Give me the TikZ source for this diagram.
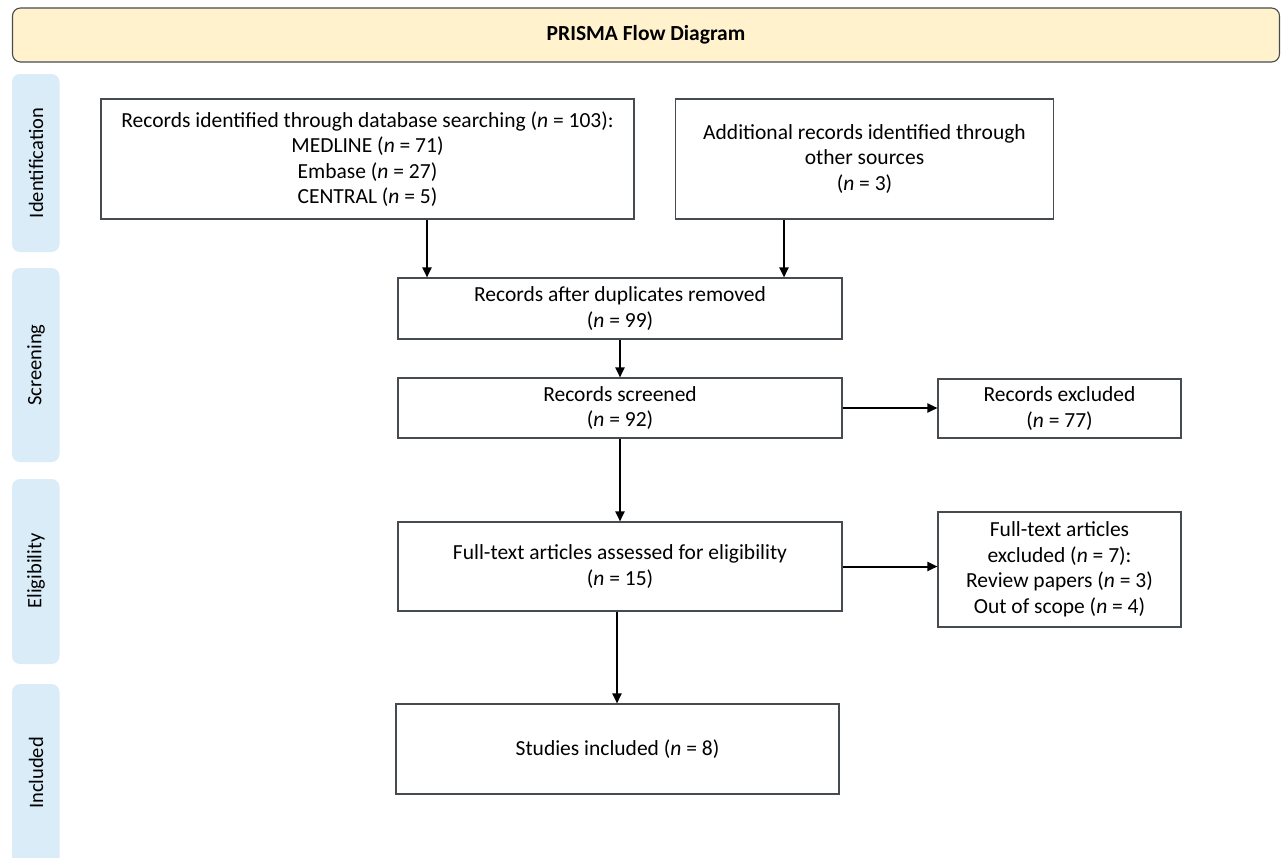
\documentclass[tikz,border=0pt]{standalone}
\usepackage{fontspec}
\setmainfont{Carlito}
\usetikzlibrary{arrows.meta,calc}
\definecolor{hdrfill}{RGB}{255,242,204}
\definecolor{tabfill}{RGB}{217,236,248}
\definecolor{boxline}{RGB}{70,75,80}
\tikzset{
  flowbox/.style={draw=boxline, line width=1.1pt, fill=white, align=center, inner sep=2pt,
    font=\fontsize{21.5}{25.5}\selectfont},
  tabbox/.style={fill=tabfill, rounded corners=8pt},
  tablabel/.style={rotate=90, font=\fontsize{20.5}{24}\selectfont},
  arr/.style={line width=2pt, -{Triangle[length=10pt,width=9pt]}}
}
\newcommand{\nn}{\textit{n}}
\begin{document}
\begin{tikzpicture}[x=1pt,y=-1pt]
\useasboundingbox (0,0) rectangle (1281,857);
% header
\node[draw=boxline, line width=1.1pt, fill=hdrfill, rounded corners=8pt,
  minimum width=1267pt, minimum height=54pt, font=\bfseries\fontsize{21.5}{24}\selectfont]
  (hdr) at (646,35) {PRISMA Flow Diagram};
% side tabs
\begin{scope}
\clip (0,0) rectangle (1281,857);
\fill[tabbox] (12,74) rectangle (59.5,252);
\fill[tabbox] (12,268) rectangle (59.5,462);
\fill[tabbox] (12,479) rectangle (59.5,664);
\fill[tabbox] (12,684) rectangle (59.5,870);
\end{scope}
\node[tablabel] (tid) at (36,163) {Identification};
\node[tablabel] (tsc) at (36,365) {Screening};
\node[tablabel] (tel) at (36,571) {Eligibility};
\node[tablabel] (tin) at (36,773) {Included};
% boxes
\node[flowbox, minimum width=533pt, minimum height=120pt] (b1) at (367.5,159)
  {Records identified through database searching (\nn{} = 103):\\MEDLINE (\nn{} = 71)\\Embase (\nn{} = 27)\\CENTRAL (\nn{} = 5)};
\node[flowbox, minimum width=378pt, minimum height=120pt] (b2) at (864.5,159)
  {Additional records identified through\\other sources\\(\nn{} = 3)};
\node[flowbox, minimum width=444pt, minimum height=61pt] (b3) at (620,308.5)
  {Records after duplicates removed\\(\nn{} = 99)};
\node[flowbox, minimum width=444pt, minimum height=60pt] (b4) at (620,408)
  {Records screened\\(\nn{} = 92)};
\node[flowbox, minimum width=444pt, minimum height=89pt] (b5) at (620,566.5)
  {Full-text articles assessed for eligibility\\(\nn{} = 15)};
\node[flowbox, minimum width=243pt, minimum height=59pt] (b6) at (1059.5,408.5)
  {Records excluded\\(\nn{} = 77)};
\node[flowbox, minimum width=243pt, minimum height=115pt] (b7) at (1059.5,569.5)
  {Full-text articles\\excluded (\nn{} = 7):\\Review papers (\nn{} = 3)\\Out of scope (\nn{} = 4)};
\node[flowbox, minimum width=443pt, minimum height=90pt] (b8) at (617.5,749)
  {Studies included (\nn{} = 8)};
% connectors
\coordinate (x1) at (427,0);
\coordinate (x2) at (784,0);
\coordinate (x5) at (617,0);
\draw[arr] (b1.south -| x1) -- (b3.north -| x1);
\draw[arr] (b2.south -| x2) -- (b3.north -| x2);
\draw[arr] (b3.south) -- (b4.north);
\draw[arr] (b4.south) -- (b5.north);
\draw[arr] (b5.south -| x5) -- (b8.north -| x5);
\draw[arr] (b4.east) -- (b4.east -| b6.west);
\draw[arr] (b5.east) -- (b5.east -| b7.west);
\end{tikzpicture}
\end{document}
